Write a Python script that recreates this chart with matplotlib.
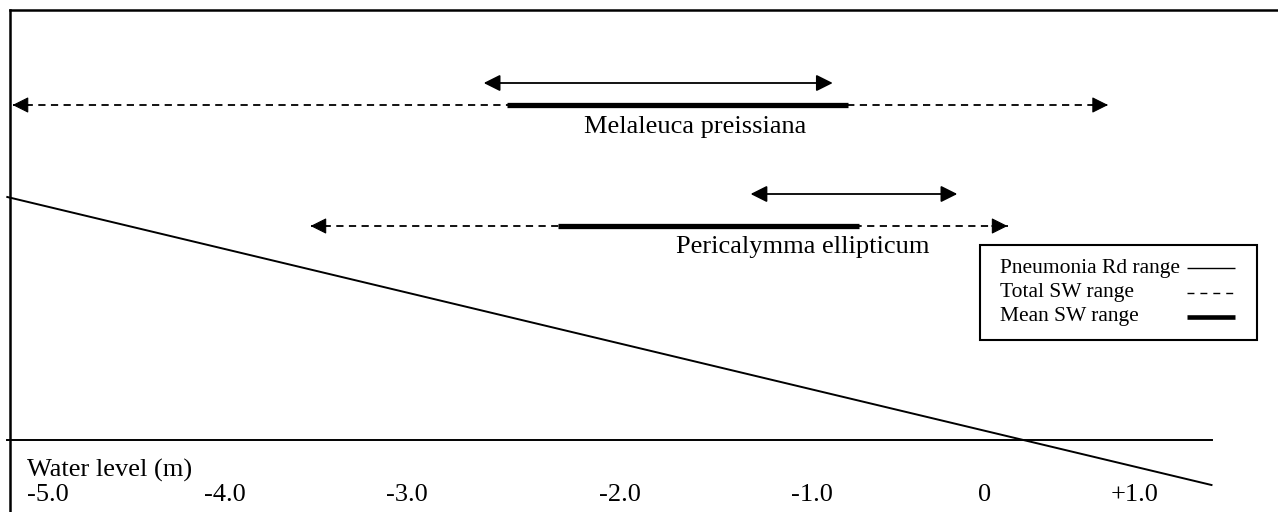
import numpy as np
import matplotlib.pyplot as plt
from matplotlib.patches import FancyArrowPatch, Rectangle
from matplotlib.transforms import blended_transform_factory

plt.rcParams['font.family'] = ['Liberation Serif', 'DejaVu Serif']

# ---- data (water level, m) ----
tick_vals = [-5.0, -4.0, -3.0, -2.0, -1.0, 0.0, 1.0]
tick_labels = ['-5.0', '-4.0', '-3.0', '-2.0', '-1.0', '0', '+1.0']
species = ['Melaleuca preissiana', 'Pericalymma ellipticum']
rd_min = [-2.64, -1.32]
rd_max = [-0.88, -0.16]
total_min = [-5.20, -3.53]
total_max = [0.82, 0.15]
mean_min = [-2.53, -2.29]
mean_max = [-0.79, -0.73]
ground_x = [-5.23, 1.51]

# ---- layout (schematic drawing, not to scale) ----
tick_px = [48, 225, 407, 620, 812, 985, 1135]   # where each tick sits across the 1278 px width
W, H = 1278, 512
row_y = [(83, 105, 127), (194, 226, 247)]         # rd arrow, total/mean, label
label_x = [-1.61, -1.05]
ground_y = [197, 485]
water_y = 440
HEAD = 'head_length=0.5,head_width=0.25'


def _extrap(v, xs, ys):
    v = np.asarray(v, dtype=float)
    out = np.interp(v, xs, ys)
    s0 = (ys[1] - ys[0]) / (xs[1] - xs[0])
    s1 = (ys[-1] - ys[-2]) / (xs[-1] - xs[-2])
    out = np.where(v < xs[0], ys[0] + (v - xs[0]) * s0, out)
    out = np.where(v > xs[-1], ys[-1] + (v - xs[-1]) * s1, out)
    return out


def fwd(v):
    return _extrap(v, tick_vals, tick_px)


def inv(p):
    return _extrap(p, tick_px, tick_vals)


fig = plt.figure(figsize=(W / 100, H / 100), dpi=100)
ax = fig.add_axes([0, 0, 1, 1])
ax.set_xscale('function', functions=(fwd, inv))
ax.set_xlim(float(inv(0)), float(inv(W)))
ax.set_ylim(H, 0)
ax.axis('off')

blend = blended_transform_factory(ax.transAxes, ax.transData)

# frame (left and top edges)
ax.plot([10 / W, 10 / W], [10, H], color='black', lw=1.8, transform=blend, solid_capstyle='projecting')
ax.plot([10 / W, 1.0], [10, 10], color='black', lw=1.8, transform=blend, solid_capstyle='projecting')


def solid_arrow(x0, x1, y, lw):
    p = FancyArrowPatch((x0, y), (x1, y), arrowstyle='<|-|>,' + HEAD,
                        mutation_scale=20, lw=lw, color='black',
                        shrinkA=0, shrinkB=0, zorder=3)
    ax.add_patch(p)


def dashed_arrow(x0, x1, y, lw):
    ax.plot([x0, x1], [y, y], color='black', lw=lw, ls=(0, (4, 3)), zorder=3)
    for x, d in ((x0, 1), (x1, -1)):
        ax.annotate('', xy=(x, y), xytext=(16 * d, 0), textcoords='offset pixels',
                    arrowprops=dict(arrowstyle='-|>,' + HEAD, mutation_scale=20,
                                    lw=0.8, color='black', shrinkA=0, shrinkB=0),
                    zorder=3)


for i, name in enumerate(species):
    y_rd, y_tot, y_lab = row_y[i]
    solid_arrow(rd_min[i], rd_max[i], y_rd, 1.3)
    dashed_arrow(total_min[i], total_max[i], y_tot, 1.3)
    ax.plot([mean_min[i], mean_max[i]], [y_tot, y_tot], color='black', lw=3.8,
            solid_capstyle='butt', zorder=4)
    ax.text(label_x[i], y_lab, name, ha='center', va='center', fontsize=19)

# ground line and water level line
ax.plot(ground_x, ground_y, color='black', lw=1.4)
ax.plot(ground_x, [water_y, water_y], color='black', lw=1.4)

# axis labels
for v, lab in zip(tick_vals, tick_labels):
    ax.text(v, 495, lab, ha='center', va='center', fontsize=19)
ax.annotate('Water level (m)', xy=(tick_vals[0], 470), xytext=(-15, 0),
            textcoords='offset points', ha='left', va='center', fontsize=19)

# legend box
ax.add_patch(Rectangle((980 / W, 245), 277 / W, 95, transform=blend,
                       fill=False, ec='black', lw=1.5))
leg_labels = ['Pneumonia Rd range', 'Total SW range', 'Mean SW range']
leg_styles = [('-', 1.0), ((0, (5, 4.3)), 1.0), ('-', 3.3)]
leg_y = [268, 293, 317]
for lab, (ls, lw), y in zip(leg_labels, leg_styles, leg_y):
    ax.text(1000 / W, y, lab, transform=blend, ha='left', va='center', fontsize=15.5)
    ax.plot([1187 / W, 1235 / W], [y, y], transform=blend, color='black', ls=ls, lw=lw,
            solid_capstyle='butt')

fig.savefig('out.png', dpi=100)
